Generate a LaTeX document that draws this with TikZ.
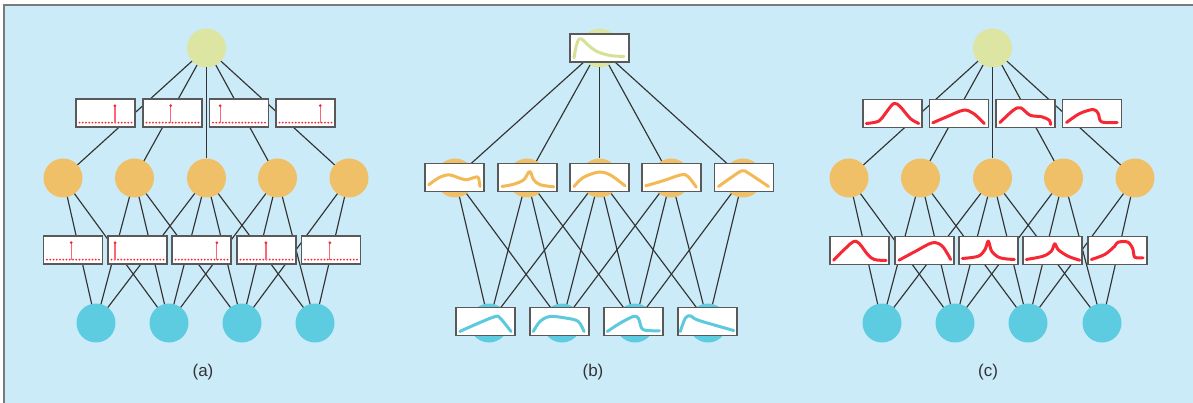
\documentclass[tikz,border=0pt]{standalone}
\usepackage{fontspec}
\setmainfont{Liberation Sans}
\definecolor{bgcol}{HTML}{CCEBF8}
\definecolor{framecol}{HTML}{7A7A7A}
\definecolor{topcol}{HTML}{DCE6A2}
\definecolor{hidcol}{HTML}{F0C068}
\definecolor{incol}{HTML}{5ECCE0}
\definecolor{edgecol}{HTML}{333333}
\definecolor{boxcol}{HTML}{595959}
\definecolor{redcol}{HTML}{F52833}
\definecolor{stemcol}{HTML}{FF6575}
\definecolor{bor}{HTML}{F2B955}
\definecolor{bbl}{HTML}{5CC9DD}
\definecolor{byg}{HTML}{D6E096}
\definecolor{labcol}{HTML}{333333}
\newcommand\spikeplot[2]{%
  \begin{scope}[shift={(#1.south west)},x=1pt,y=1pt]
    \foreach \k in {0,...,16} \fill[redcol] ({3.5+\k*3.25},4.4) circle (1.05);
    \draw[stemcol,line width=1.2pt] ({#2*59},4.4) -- ({#2*59},21.3);
    \fill[redcol] ({#2*59},21.3) circle (1.5);
  \end{scope}}
\newcommand\curveplot[3]{%
  \begin{scope}[shift={(#1.south west)},x=1pt,y=1pt]
    \draw[crv,draw=#2] plot[smooth,tension=0.55] coordinates {#3};
  \end{scope}}
\begin{document}
\begin{tikzpicture}[x=1pt,y=-1pt,
  edge/.style={draw=edgecol,line width=1.15pt},
  topn/.style={circle,fill=topcol,minimum size=39pt,inner sep=0pt,outer sep=0pt},
  hidn/.style={circle,fill=hidcol,minimum size=39pt,inner sep=0pt,outer sep=0pt},
  inn/.style={circle,fill=incol,minimum size=39pt,inner sep=0pt,outer sep=0pt},
  pbox/.style={draw=boxcol,fill=white,line width=1.7pt,minimum width=59pt,minimum height=28pt,inner sep=0pt,outer sep=0pt},
  crv/.style={line width=3pt,line cap=round,line join=round},
  lab/.style={text=labcol,font=\fontsize{17}{20}\selectfont,inner sep=0pt}]
\useasboundingbox (0,0) rectangle (1193,403);
\fill[bgcol] (4,5) rectangle (1193,403);
\draw[framecol,line width=1.5pt] (4,403) -- (4,5) -- (1193,5);

% ---------- panel (a)
\node[topn] (a-t) at (206.5,48) {};
\foreach \i/\x in {1/63,2/134.5,3/206.5,4/277.5,5/349} \node[hidn] (a-h\i) at (\x,178) {};
\foreach \i/\x in {1/96,2/169,3/242,4/315} \node[inn] (a-i\i) at (\x,323) {};
\foreach \i in {1,...,5} \draw[edge] (a-t) -- (a-h\i);
\foreach \h/\b in {1/1,1/2,2/1,2/2,2/3,3/1,3/2,3/3,3/4,4/2,4/3,4/4,5/3,5/4} \draw[edge] (a-h\h) -- (a-i\b);
\foreach \i/\x/\f in {1/105.5/0.66,2/172.5/0.47,3/239/0.18,4/305.5/0.75} {
  \node[pbox] (a-p\i) at (\x,113) {};
  \spikeplot{a-p\i}{\f}}
\foreach \i/\x/\f in {1/73/0.47,2/137.5/0.12,3/201.5/0.76,4/266.5/0.49,5/331/0.48} {
  \node[pbox] (a-q\i) at (\x,250) {};
  \spikeplot{a-q\i}{\f}}
\node[lab] (a-lab) at (203,372) {(a)};

% ---------- panel (b)
\node[topn] (b-t) at (599.5,48) {};
\foreach \i/\x in {1/455,2/527,3/599.5,4/671,5/743} \node[hidn] (b-h\i) at (\x,178) {};
\foreach \i/\x in {1/489,2/562,3/635,4/708} \node[inn] (b-i\i) at (\x,323) {};
\foreach \i in {1,...,5} \draw[edge] (b-t) -- (b-h\i);
\foreach \h/\b in {1/1,1/2,2/1,2/2,2/3,3/1,3/2,3/3,3/4,4/2,4/3,4/4,5/3,5/4} \draw[edge] (b-h\h) -- (b-i\b);
\node[pbox] (b-pt) at (599.5,48) {};
\curveplot{b-pt}{byg}{(4,4) (6,15) (9,23) (13,22) (18,17) (27,10.5) (40,6.5) (54,5.5)}
\foreach \i/\x in {1/454.5,2/527.5,3/599.5,4/671.5,5/744} \node[pbox] (b-ph\i) at (\x,177.5) {};
\curveplot{b-ph1}{bor}{(3.7,6.7) (14.3,14) (24.3,16.7) (32.7,14) (41,11.7) (49.3,14) (53.3,14) (55,5)}
\curveplot{b-ph2}{bor}{(4,5) (15.7,7.3) (25.7,11.7) (31.7,20) (35.7,11.7) (42.3,6.7) (55.7,4.7)}
\curveplot{b-ph3}{bor}{(4,5) (13.3,14) (28.3,19.3) (40,16.7) (55,5.7)}
\curveplot{b-ph4}{bor}{(3.7,5.7) (21,10.7) (39.3,16.7) (46,15) (54.3,4.3)}
\curveplot{b-ph5}{bor}{(4,5) (15.7,13.3) (27.3,20.7) (34,18.3) (54,5)}
\foreach \i/\x in {1/485.5,2/559.5,3/633.5,4/707.5} \node[pbox] (b-pi\i) at (\x,321.5) {};
\curveplot{b-pi1}{bbl}{(3.7,4) (21,11.7) (39.3,19) (44.3,17.3) (55,4)}
\curveplot{b-pi2}{bbl}{(3.3,4) (10,14) (20,19) (36.7,17.3) (48.3,14) (54,4)}
\curveplot{b-pi3}{bbl}{(3.3,4) (16,12.3) (29.3,19) (34.3,17.3) (37.7,7.3) (42.7,5) (55.3,4.7)}
\curveplot{b-pi4}{bbl}{(2.3,4) (7.3,17.3) (12.3,19.7) (19,15.7) (39,9.7) (55.7,5)}
\node[lab] (b-lab) at (593,372) {(b)};

% ---------- panel (c)
\node[topn] (c-t) at (992.5,48) {};
\foreach \i/\x in {1/849,2/920.5,3/992.5,4/1063.5,5/1135} \node[hidn] (c-h\i) at (\x,178) {};
\foreach \i/\x in {1/882,2/955,3/1028,4/1102} \node[inn] (c-i\i) at (\x,323) {};
\foreach \i in {1,...,5} \draw[edge] (c-t) -- (c-h\i);
\foreach \h/\b in {1/1,1/2,2/1,2/2,2/3,3/1,3/2,3/3,3/4,4/2,4/3,4/4,5/3,5/4} \draw[edge] (c-h\h) -- (c-i\b);
\foreach \i/\x in {1/892.5,2/959,3/1025.5,4/1092} \node[pbox] (c-p\i) at (\x,113.5) {};
\curveplot{c-p1}{redcol}{(3.3,4) (15.7,6.3) (22.3,14) (30.7,24) (37.3,20.7) (47.3,9) (55.7,4)}
\curveplot{c-p2}{redcol}{(3.3,4.7) (17.3,10.7) (34,17.3) (44,14) (54.7,4)}
\curveplot{c-p3}{redcol}{(4,5) (17.3,17.3) (24.7,19.7) (34,12.3) (45.7,10.7) (53.3,7.3) (54.7,3)}
\curveplot{c-p4}{redcol}{(4,5) (17.3,14) (30.7,18) (35.7,14) (39,5.7) (54.7,5)}
\foreach \i/\x in {1/859.5,2/924.5,3/988.5,4/1052.5,5/1117.5} \node[pbox] (c-q\i) at (\x,250.5) {};
\curveplot{c-q1}{redcol}{(3.7,4.3) (14.3,15) (26,23.3) (37.7,10) (44.3,5) (56,4)}
\curveplot{c-q2}{redcol}{(4,4.3) (20.7,13.3) (37.3,21.7) (47.3,18.3) (55.7,5)}
\curveplot{c-q3}{redcol}{(3.3,6) (19.3,8.3) (26,15) (29.3,23.3) (32.7,13.3) (41,6.7) (55.3,5)}
\curveplot{c-q4}{redcol}{(3.3,5) (20,8.3) (28.3,13.3) (31.7,20.7) (35,15) (45,8.3) (56.7,4.3)}
\curveplot{c-q5}{redcol}{(3.3,5) (16.7,10) (26.7,18.3) (30,22.3) (40,22.3) (45,15) (46.7,7.3) (55,6.7)}
\node[lab] (c-lab) at (988,372) {(c)};
\end{tikzpicture}
\end{document}
